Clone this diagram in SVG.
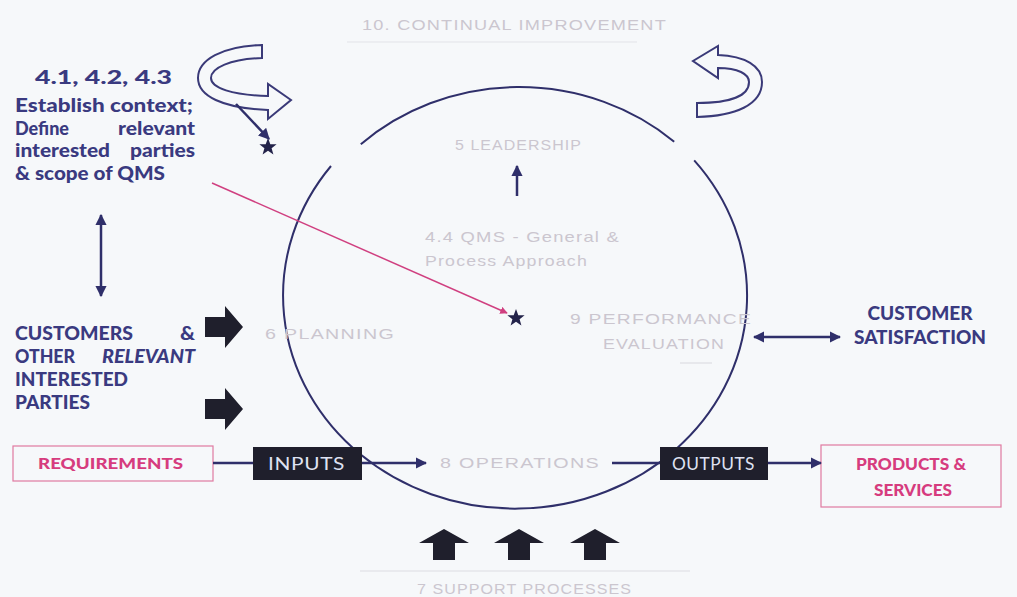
<svg xmlns="http://www.w3.org/2000/svg" width="1017" height="597" viewBox="0 0 1017 597">
<defs>
<marker id="ah" viewBox="0 0 10 10" refX="9" refY="5" markerWidth="4.5" markerHeight="4.5" orient="auto-start-reverse"><path d="M0,0 L10,5 L0,10 Z" fill="#2f2f6a"/></marker>
<marker id="ahp" viewBox="0 0 10 10" refX="9" refY="5" markerWidth="5" markerHeight="5" orient="auto"><path d="M0,0 L10,5 L0,10 Z" fill="#d04080"/></marker>
<style>
.nav{font-family:Lato,"Open Sans","Liberation Sans",sans-serif;font-weight:900;fill:#3a3a80;font-size:18px}
.fade{font-family:"Liberation Sans",sans-serif;fill:#cbc6cf;font-size:15px;letter-spacing:1px}
.pink{font-family:Lato,"Open Sans","Liberation Sans",sans-serif;font-weight:900;fill:#d63c7e}
.box{font-family:Lato,"Open Sans","Liberation Sans",sans-serif;fill:#dfe2f2;font-size:17px;letter-spacing:0.5px}
.ln{stroke:#2f2f6a;stroke-width:2.5;fill:none}
.blk{fill:#1f1f2c}
.star{fill:#23234a}
</style>
</defs>
<rect width="1017" height="597" fill="#f6f8fa"/>

<g id="continual-improvement">
<text class="fade" x="362" y="30" textLength="305" lengthAdjust="spacingAndGlyphs">10. CONTINUAL IMPROVEMENT</text>
<line x1="347" y1="42" x2="637" y2="42" stroke="#e2e3e8" stroke-width="1"/>
<path d="M262,45 C222,46 198,60 198,78 C198,96 222,108 268,110 L268,119 L291,100 L268,84 L268,96 C232,95 211,88 211,78 C211,68 230,59 262,58 Z" fill="none" stroke="#3a3a78" stroke-width="2"/>
<path d="M697,117 C735,116 762,105 762,82 C762,66 745,56 718,55 L718,46 L693,61 L718,78 L718,68 C738,68 749,74 749,82 C749,96 730,103 697,103 Z" fill="none" stroke="#3a3a78" stroke-width="2"/>
</g>

<g id="cycle">
<path d="M694.2,160.3 A232,213 0 1 1 331,166" fill="none" stroke="#2f2f6a" stroke-width="2"/>
<path d="M360.8,144.3 A232,213 0 0 1 674.2,141.7" fill="none" stroke="#2f2f6a" stroke-width="2"/>
</g>

<g id="context">
<text class="nav" x="35" y="84" font-size="24" textLength="137" lengthAdjust="spacingAndGlyphs">4.1, 4.2, 4.3</text>
<text class="nav" x="15" y="112" textLength="178" lengthAdjust="spacingAndGlyphs">Establish context;</text>
<text class="nav" x="15" y="135" textLength="54" lengthAdjust="spacingAndGlyphs">Define</text>
<text class="nav" x="118" y="135" textLength="77" lengthAdjust="spacingAndGlyphs">relevant</text>
<text class="nav" x="15" y="157" textLength="95" lengthAdjust="spacingAndGlyphs">interested</text>
<text class="nav" x="130" y="157" textLength="65" lengthAdjust="spacingAndGlyphs">parties</text>
<text class="nav" x="15" y="180" textLength="150" lengthAdjust="spacingAndGlyphs">&amp; scope of QMS</text>
<path class="star" d="M268,138 L270.3,144.2 L276.6,144.3 L271.6,148.3 L273.4,154.5 L268,150.8 L262.6,154.5 L264.4,148.3 L259.4,144.3 L265.7,144.2 Z"/>
</g>

<g id="customers">
<text class="nav" x="15" y="340" textLength="118" lengthAdjust="spacingAndGlyphs">CUSTOMERS</text>
<text class="nav" x="180" y="340" textLength="15" lengthAdjust="spacingAndGlyphs">&amp;</text>
<text class="nav" x="15" y="363" textLength="60" lengthAdjust="spacingAndGlyphs">OTHER</text>
<text class="nav" x="102" y="363" font-style="italic" textLength="93" lengthAdjust="spacingAndGlyphs">RELEVANT</text>
<text class="nav" x="15" y="386" textLength="113" lengthAdjust="spacingAndGlyphs">INTERESTED</text>
<text class="nav" x="15" y="409" textLength="75" lengthAdjust="spacingAndGlyphs">PARTIES</text>
<path class="blk" d="M205,317 L225,317 L225,306 L243,327 L225,348 L225,337 L205,337 Z"/>
<path class="blk" d="M205,399 L225,399 L225,388 L243,409 L225,430 L225,419 L205,419 Z"/>
</g>

<g id="leadership">
<text class="fade" x="455" y="150" textLength="127" lengthAdjust="spacingAndGlyphs">5 LEADERSHIP</text>
</g>

<g id="qms-general">
<text class="fade" x="425" y="242" textLength="195" lengthAdjust="spacingAndGlyphs">4.4 QMS - General &amp;</text>
<text class="fade" x="425" y="266" textLength="163" lengthAdjust="spacingAndGlyphs">Process Approach</text>
<path class="star" d="M516,309 L518.3,315.2 L524.6,315.3 L519.6,319.3 L521.4,325.5 L516,321.8 L510.6,325.5 L512.4,319.3 L507.4,315.3 L513.7,315.2 Z"/>
</g>

<g id="planning">
<text class="fade" x="265" y="339" textLength="130" lengthAdjust="spacingAndGlyphs">6 PLANNING</text>
</g>

<g id="performance">
<text class="fade" x="570" y="324" textLength="182" lengthAdjust="spacingAndGlyphs">9 PERFORMANCE</text>
<text class="fade" x="603" y="349" textLength="122" lengthAdjust="spacingAndGlyphs">EVALUATION</text>
<line x1="680" y1="363" x2="712" y2="363" stroke="#d8d8de" stroke-width="1"/>
</g>

<g id="satisfaction">
<text class="nav" x="920" y="320" text-anchor="middle" textLength="105" lengthAdjust="spacingAndGlyphs">CUSTOMER</text>
<text class="nav" x="920" y="344" text-anchor="middle" textLength="132" lengthAdjust="spacingAndGlyphs">SATISFACTION</text>
</g>

<g id="requirements">
<rect x="13" y="446" width="200" height="35" fill="none" stroke="#e07aa0" stroke-width="1.2"/>
<text class="pink" x="38" y="469" font-size="15" textLength="145" lengthAdjust="spacingAndGlyphs">REQUIREMENTS</text>
</g>

<g id="inputs">
<rect x="253" y="447" width="109" height="33" class="blk"/>
<text class="box" x="268" y="470" textLength="77" lengthAdjust="spacingAndGlyphs">INPUTS</text>
</g>

<g id="operations">
<text class="fade" x="440" y="468" textLength="160" lengthAdjust="spacingAndGlyphs">8 OPERATIONS</text>
</g>

<g id="outputs">
<rect x="660" y="447" width="108" height="33" class="blk"/>
<text class="box" x="672" y="470" textLength="83" lengthAdjust="spacingAndGlyphs">OUTPUTS</text>
</g>

<g id="products">
<rect x="821" y="445" width="180" height="62" fill="none" stroke="#e07aa0" stroke-width="1.2"/>
<text class="pink" x="911" y="470" font-size="16" text-anchor="middle" textLength="110" lengthAdjust="spacingAndGlyphs">PRODUCTS &amp;</text>
<text class="pink" x="913" y="496" font-size="16" text-anchor="middle" textLength="78" lengthAdjust="spacingAndGlyphs">SERVICES</text>
</g>

<g id="support">
<path class="blk" d="M433,560 L433,543 L419,543 L444,529 L469,543 L455,543 L455,560 Z"/>
<path class="blk" d="M508,560 L508,543 L494,543 L519,529 L544,543 L530,543 L530,560 Z"/>
<path class="blk" d="M584,560 L584,543 L570,543 L595,529 L620,543 L606,543 L606,560 Z"/>
<line x1="360" y1="571" x2="690" y2="571" stroke="#dcdce2" stroke-width="1"/>
<text class="fade" x="417" y="594" textLength="215" lengthAdjust="spacingAndGlyphs">7 SUPPORT PROCESSES</text>
</g>

<g id="connectors">
<line class="ln" x1="236" y1="104" x2="269" y2="139" marker-end="url(#ah)"/>
<line x1="212" y1="183" x2="507" y2="313" stroke="#d04080" stroke-width="1.5" marker-end="url(#ahp)"/>
<line class="ln" x1="101" y1="215" x2="101" y2="296" marker-start="url(#ah)" marker-end="url(#ah)"/>
<line class="ln" x1="517" y1="196" x2="517" y2="166" marker-end="url(#ah)"/>
<line class="ln" x1="754" y1="337" x2="840" y2="337" marker-start="url(#ah)" marker-end="url(#ah)"/>
<line class="ln" x1="213" y1="463" x2="253" y2="463"/>
<line class="ln" x1="362" y1="463" x2="426" y2="463" marker-end="url(#ah)"/>
<line class="ln" x1="612" y1="463" x2="660" y2="463"/>
<line class="ln" x1="768" y1="463" x2="821" y2="463" marker-end="url(#ah)"/>
</g>
</svg>
